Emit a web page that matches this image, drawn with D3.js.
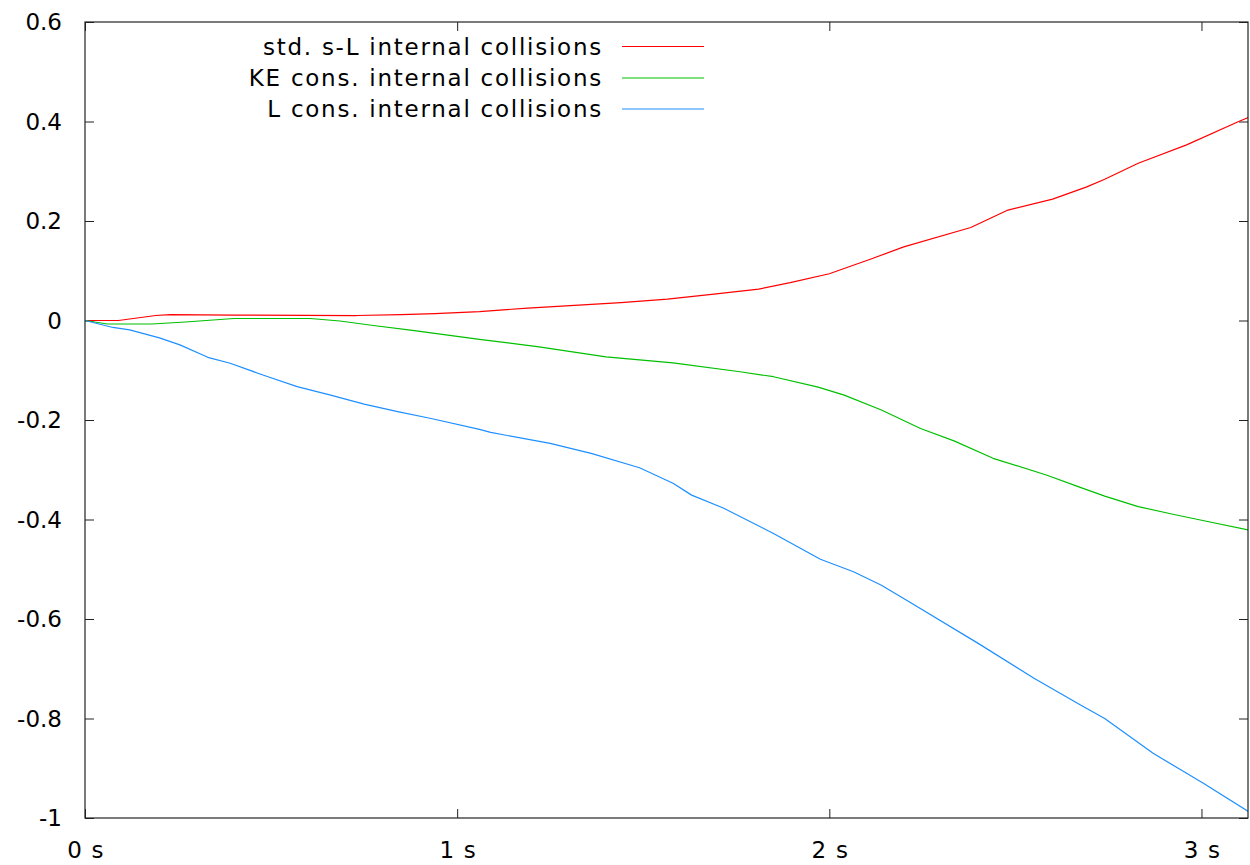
<!DOCTYPE html>
<html>
<head>
<meta charset="utf-8">
<script src="https://cdn.jsdelivr.net/npm/d3@7"></script>
<style>
  html, body { margin: 0; padding: 0; background: #fff; }
  svg { display: block; font-family: "DejaVu Sans", sans-serif; }
</style>
</head>
<body>
<svg id="chart" width="1250" height="865"></svg>
<script>
// Angular momentum drift over time for three collision models
const seriesNames = ["std. s-L internal collisions", "KE cons. internal collisions", "L cons. internal collisions"];
const seriesColors = ["#ff0000", "#00c000", "#1e8fff"];

const stdT = [0, 0.09, 0.19, 0.23, 0.40, 0.73, 0.85, 0.94, 1.06, 1.19, 1.44, 1.565, 1.69, 1.81, 1.895, 2.0, 2.11, 2.2, 2.38, 2.48, 2.60, 2.69, 2.74, 2.83, 2.96, 3.10, 3.126];
const stdV = [0, 0, 0.010, 0.012, 0.011, 0.010, 0.012, 0.014, 0.018, 0.025, 0.036, 0.043, 0.053, 0.063, 0.076, 0.094, 0.123, 0.148, 0.187, 0.222, 0.244, 0.268, 0.284, 0.316, 0.353, 0.400, 0.408];

const keT = [0, 0.06, 0.18, 0.27, 0.40, 0.605, 0.685, 0.775, 0.88, 0.97, 1.06, 1.22, 1.40, 1.58, 1.76, 1.85, 1.97, 2.04, 2.14, 2.245, 2.335, 2.44, 2.585, 2.665, 2.74, 2.83, 2.92, 3.01, 3.126];
const keV = [0, -0.007, -0.007, -0.003, 0.004, 0.004, -0.001, -0.010, -0.020, -0.029, -0.038, -0.053, -0.073, -0.085, -0.103, -0.113, -0.134, -0.150, -0.180, -0.217, -0.242, -0.277, -0.311, -0.333, -0.353, -0.374, -0.389, -0.403, -0.421];

const lT = [0, 0.075, 0.12, 0.20, 0.255, 0.33, 0.39, 0.48, 0.57, 0.66, 0.75, 0.84, 0.93, 1.06, 1.09, 1.25, 1.36, 1.49, 1.58, 1.63, 1.715, 1.85, 1.976, 2.065, 2.14, 2.22, 2.40, 2.55, 2.675, 2.74, 2.87, 2.96, 3.005, 3.126];
const lV = [0, -0.014, -0.019, -0.035, -0.049, -0.074, -0.086, -0.110, -0.133, -0.150, -0.168, -0.183, -0.197, -0.219, -0.225, -0.247, -0.267, -0.296, -0.327, -0.351, -0.377, -0.428, -0.480, -0.505, -0.532, -0.568, -0.649, -0.719, -0.773, -0.800, -0.870, -0.910, -0.930, -0.987];

const xTicks = [0, 1, 2, 3];
const xTickLabels = ["0 s", "1 s", "2 s", "3 s"];
const yTicks = [0.6, 0.4, 0.2, 0, -0.2, -0.4, -0.6, -0.8, -1];
const yTickLabels = ["0.6", "0.4", "0.2", "0", "-0.2", "-0.4", "-0.6", "-0.8", "-1"];

const series = [
  { t: stdT, v: stdV },
  { t: keT, v: keV },
  { t: lT, v: lV }
];

const svg = d3.select("#chart");
const margin = { left: 85, right: 2, top: 22, bottom: 47 };
const W = 1250, H = 865;
const x = d3.scaleLinear().domain([0, 3.125]).range([margin.left, W - margin.right]);
const y = d3.scaleLinear().domain([-1, 0.6]).range([H - margin.bottom, margin.top]);

const fontSize = 23;
const tickLen = 9;
const frameColor = "#222";

svg.append("defs").append("clipPath").attr("id", "plot-clip")
  .append("rect")
  .attr("x", x(0)).attr("y", y(0.6))
  .attr("width", x(3.125) - x(0)).attr("height", y(-1) - y(0.6));

// Axes: ticks point inward, mirrored on opposite sides
const gBottom = svg.append("g").attr("transform", `translate(0,${y(-1)})`)
  .call(d3.axisTop(x).tickValues(xTicks).tickSize(tickLen).tickFormat(""));
const gTop = svg.append("g").attr("transform", `translate(0,${y(0.6)})`)
  .call(d3.axisBottom(x).tickValues(xTicks).tickSize(tickLen).tickFormat(""));
const gLeft = svg.append("g").attr("transform", `translate(${x(0)},0)`)
  .call(d3.axisRight(y).tickValues(yTicks).tickSize(tickLen).tickFormat(""));
const gRight = svg.append("g").attr("transform", `translate(${x(3.125)},0)`)
  .call(d3.axisLeft(y).tickValues(yTicks).tickSize(tickLen).tickFormat(""));
[gBottom, gTop, gLeft, gRight].forEach(g => {
  g.select(".domain").remove();
  g.selectAll(".tick line").attr("stroke", frameColor).attr("stroke-width", 1);
});

// Tick labels
svg.append("g").selectAll("text").data(xTicks).join("text")
  .attr("x", d => x(d) + 1)
  .attr("y", y(-1) + 40)
  .attr("text-anchor", "middle")
  .attr("font-size", fontSize)
  .attr("letter-spacing", 1.2)
  .attr("fill", "#000")
  .text((d, i) => xTickLabels[i]);

svg.append("g").selectAll("text").data(yTicks).join("text")
  .attr("x", 62)
  .attr("y", d => y(d))
  .attr("dy", "0.36em")
  .attr("text-anchor", "end")
  .attr("font-size", fontSize)
  .attr("fill", "#000")
  .text((d, i) => yTickLabels[i]);

// Data lines
const line = d3.line().x(d => x(d[0])).y(d => y(d[1]));
svg.append("g").attr("clip-path", "url(#plot-clip)")
  .selectAll("path").data(series).join("path")
  .attr("d", s => line(s.t.map((t, i) => [t, s.v[i]])))
  .attr("fill", "none")
  .attr("stroke", (s, i) => seriesColors[i])
  .attr("stroke-width", 1.2)
  .attr("stroke-linejoin", "round");

// Frame
svg.append("rect")
  .attr("x", x(0)).attr("y", y(0.6))
  .attr("width", x(3.125) - x(0)).attr("height", y(-1) - y(0.6))
  .attr("fill", "none").attr("stroke", frameColor).attr("stroke-width", 1.2);

// Legend
const legend = svg.append("g");
const legendRowY = [46.5, 78, 109];
seriesNames.forEach((name, i) => {
  legend.append("text")
    .attr("x", 603).attr("y", legendRowY[i])
    .attr("dy", "0.36em")
    .attr("text-anchor", "end")
    .attr("font-size", fontSize)
    .attr("letter-spacing", 1.75)
    .attr("fill", "#000")
    .text(name);
  legend.append("line")
    .attr("x1", 622).attr("x2", 704)
    .attr("y1", legendRowY[i]).attr("y2", legendRowY[i])
    .attr("stroke", seriesColors[i]).attr("stroke-width", 1.2);
});
</script>
</body>
</html>
